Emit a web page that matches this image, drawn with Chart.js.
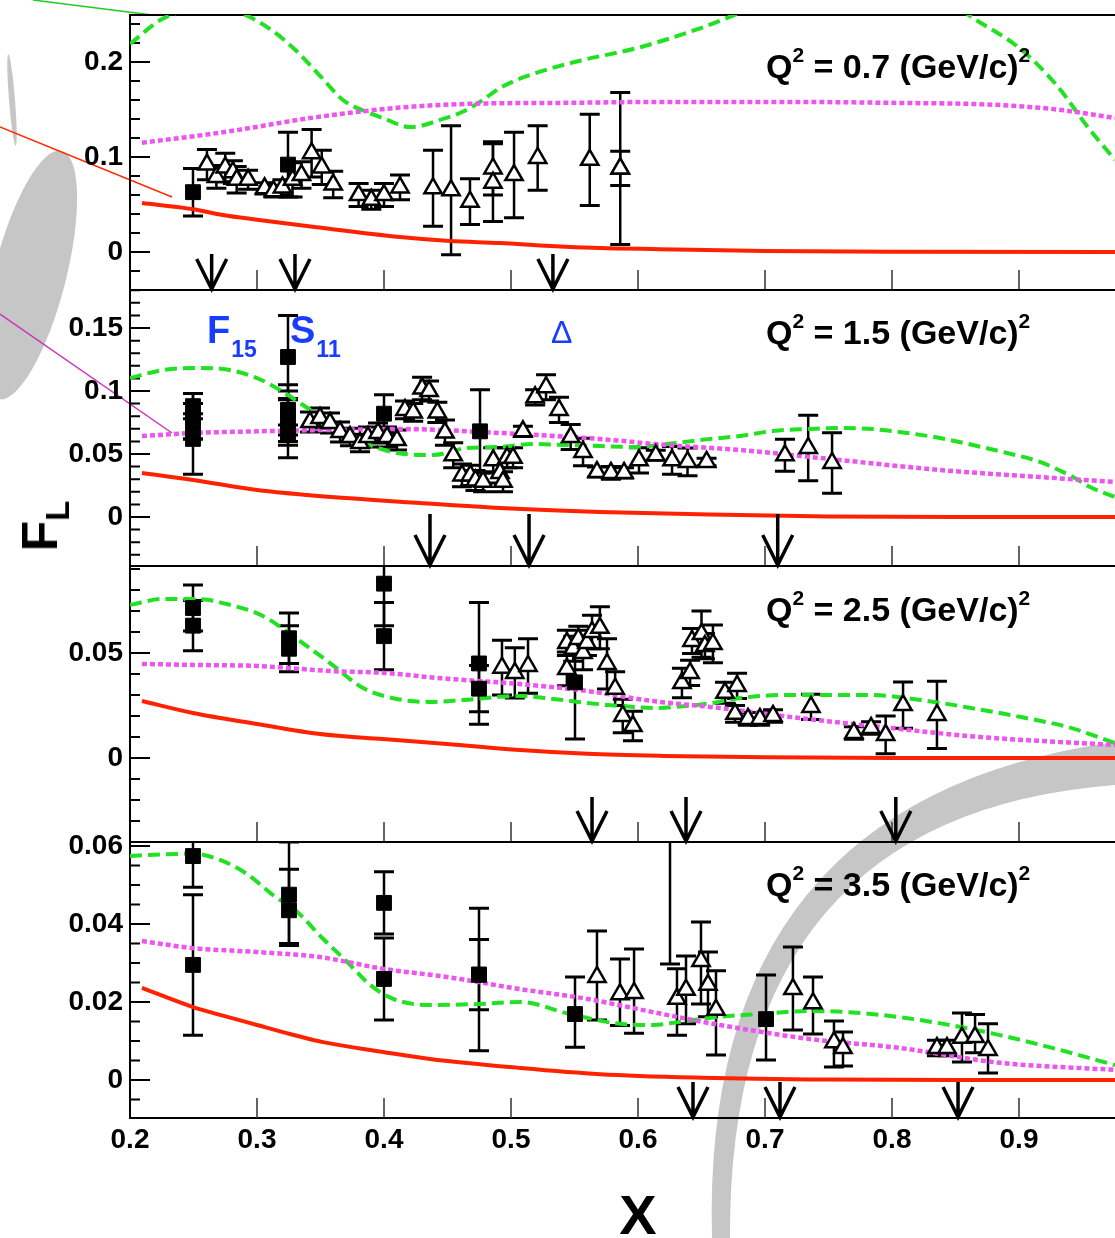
<!DOCTYPE html>
<html>
<head>
<meta charset="utf-8">
<title>F_L versus x</title>
<script src="https://cdn.jsdelivr.net/npm/chart.js@4.4.1/dist/chart.umd.min.js"></script>
<style>
  body { margin: 0; background: #fff; }
  #wrap { position: relative; width: 1115px; height: 1238px; overflow: hidden; }
  #wrap canvas { position: absolute; left: 0; top: 0; }
  .axis-title { position: absolute; font-family: 'Liberation Sans', Arial, sans-serif; font-weight: bold; color: #000; white-space: nowrap; line-height: 1; }
  #xTitle { left: 638px; top: 1215px; font-size: 56px; transform: translate(-50%, -50%); }
  #yTitle { left: 40px; top: 526px; font-size: 50px; transform: translate(-50%, -50%) rotate(-90deg); }
  #yTitle span { font-size: 33px; position: relative; top: 12px; }
</style>
</head>
<body>
<div id="wrap">
  <canvas id="p07" width="1115" height="1238"></canvas>
  <canvas id="p15" width="1115" height="1238"></canvas>
  <canvas id="p25" width="1115" height="1238"></canvas>
  <canvas id="p35" width="1115" height="1238"></canvas>
  <div class="axis-title" id="xTitle">X</div>
  <div class="axis-title" id="yTitle">F<span>L</span></div>
</div>
<script>
// x axis
const xTicks = [0.2, 0.3, 0.4, 0.5, 0.6, 0.7, 0.8, 0.9];
const xTickLabels = ['0.2', '0.3', '0.4', '0.5', '0.6', '0.7', '0.8', '0.9'];
const q2Values = ['0.7', '1.5', '2.5', '3.5'];

// points are [x, F_L, error] or [x, F_L, error down, error up]

// Q2 = 0.7
const yTicks07 = [0, 0.1, 0.2];
const yLabels07 = ['0', '0.1', '0.2'];
const squares07 = [[0.2496, 0.063, 0.025], [0.3244, 0.092, 0.034]];
const triangles07 = [
  [0.2606, 0.092, 0.016], [0.268, 0.079, 0.012], [0.275, 0.089, 0.015], [0.281, 0.084, 0.012],
  [0.284, 0.076, 0.014], [0.293, 0.076, 0.01], [0.306, 0.067, 0.006], [0.313, 0.064, 0.006],
  [0.32, 0.068, 0.008], [0.328, 0.076, 0.018], [0.335, 0.081, 0.014], [0.343, 0.104, 0.025],
  [0.351, 0.089, 0.018], [0.36, 0.071, 0.014], [0.38, 0.06, 0.012], [0.39, 0.055, 0.01],
  [0.4, 0.06, 0.012], [0.4126, 0.068, 0.013], [0.4386, 0.067, 0.04], [0.4528, 0.065, 0.068],
  [0.4677, 0.053, 0.024], [0.4858, 0.088, 0.028], [0.4858, 0.073, 0.041], [0.5024, 0.081, 0.045],
  [0.521, 0.099, 0.034], [0.562, 0.097, 0.048], [0.586, 0.088, 0.08], [0.586, 0.088, 0.018]
];
const red07 = [[0.2094, 0.0516], [0.25, 0.045], [0.273, 0.039], [0.3, 0.034], [0.347, 0.026], [0.4126, 0.0158],
  [0.452, 0.0116], [0.4913, 0.0095], [0.531, 0.0063], [0.57, 0.0042], [0.617, 0.003], [0.7, 0.001], [0.8, 0.0002], [0.9756, 0]];
const magenta07 = [[0.2094, 0.115], [0.273, 0.126], [0.347, 0.142], [0.4126, 0.152], [0.467, 0.156], [0.54, 0.157],
  [0.62, 0.158], [0.72, 0.158], [0.8, 0.157], [0.88, 0.155], [0.93, 0.15], [0.9756, 0.141]];
const green07 = [[0.2, 0.219], [0.225, 0.245], [0.25, 0.256], [0.27, 0.258], [0.29, 0.25], [0.31, 0.235], [0.33, 0.213],
  [0.35, 0.185], [0.3677, 0.16], [0.3835, 0.149], [0.3992, 0.141], [0.4205, 0.1316], [0.4283, 0.1326], [0.4441, 0.139],
  [0.4598, 0.1463], [0.4756, 0.158], [0.4913, 0.1726], [0.51, 0.184], [0.55, 0.2], [0.6, 0.215], [0.65, 0.236],
  [0.7, 0.262], [0.75, 0.282], [0.8, 0.29], [0.84, 0.272], [0.86, 0.25], [0.9, 0.215], [0.93, 0.175], [0.955, 0.13], [0.9756, 0.097]];
const arrows07 = [0.2643, 0.3299, 0.533];

// Q2 = 1.5
const yTicks15 = [0, 0.05, 0.1, 0.15];
const yLabels15 = ['0', '0.05', '0.1', '0.15'];
const squares15 = [
  [0.2496, 0.088, 0.01], [0.2496, 0.08, 0.018], [0.2496, 0.072, 0.01], [0.2496, 0.062, 0.028],
  [0.3244, 0.127, 0.033], [0.3244, 0.085, 0.02], [0.3244, 0.08, 0.02], [0.3244, 0.07, 0.023], [0.3244, 0.065, 0.008],
  [0.4, 0.082, 0.015], [0.4756, 0.068, 0.033]
];
const triangles15 = [
  [0.3417, 0.0754, 0.008], [0.3496, 0.0786, 0.008], [0.3575, 0.0746, 0.008], [0.3654, 0.0675, 0.008],
  [0.3732, 0.0635, 0.007], [0.3811, 0.0587, 0.007], [0.3874, 0.0635, 0.008], [0.3953, 0.0667, 0.008],
  [0.4024, 0.0635, 0.008], [0.4102, 0.0611, 0.008], [0.4165, 0.085, 0.007], [0.423, 0.083, 0.007],
  [0.43, 0.102, 0.009], [0.4355, 0.1, 0.008], [0.442, 0.083, 0.008], [0.448, 0.067, 0.01],
  [0.4545, 0.049, 0.01], [0.4614, 0.033, 0.009], [0.468, 0.033, 0.008], [0.472, 0.029, 0.008],
  [0.478, 0.028, 0.008], [0.486, 0.045, 0.01], [0.4913, 0.035, 0.008], [0.4937, 0.028, 0.008],
  [0.4969, 0.047, 0.008], [0.5016, 0.047, 0.008], [0.5094, 0.068, 0.004], [0.519, 0.095, 0.006],
  [0.5276, 0.103, 0.01], [0.5378, 0.085, 0.01], [0.547, 0.0635, 0.01], [0.5567, 0.0516, 0.011],
  [0.5677, 0.0357, 0.004], [0.5787, 0.035, 0.005], [0.589, 0.035, 0.004], [0.6008, 0.045, 0.01],
  [0.614, 0.049, 0.004], [0.6268, 0.045, 0.011], [0.639, 0.0437, 0.011], [0.654, 0.0437, 0.003],
  [0.7157, 0.049, 0.0127], [0.734, 0.0548, 0.026], [0.7528, 0.0429, 0.024]
];
const red15 = [[0.2094, 0.0349], [0.2496, 0.0294], [0.3, 0.0214], [0.3394, 0.0175], [0.4283, 0.0111], [0.4913, 0.0071],
  [0.5701, 0.004], [0.6803, 0.0016], [0.75, 0.0004], [0.85, 0], [0.9756, 0]];
const magenta15 = [[0.2094, 0.0643], [0.2496, 0.0667], [0.3, 0.068], [0.35, 0.069], [0.4126, 0.0698], [0.4913, 0.0667],
  [0.5701, 0.0619], [0.6228, 0.0571], [0.6803, 0.0532], [0.7591, 0.0452], [0.8378, 0.0373], [0.9165, 0.0317], [0.9756, 0.0278]];
const green15 = [[0.2, 0.1103], [0.226, 0.1167], [0.2528, 0.1183], [0.2732, 0.1175], [0.3, 0.1103], [0.3181, 0.1008],
  [0.3362, 0.0889], [0.3575, 0.0746], [0.3835, 0.0595], [0.4102, 0.0508], [0.4386, 0.0492], [0.4654, 0.0548],
  [0.4913, 0.0556], [0.5173, 0.0579], [0.5441, 0.0571], [0.5701, 0.0563], [0.5961, 0.0556], [0.6228, 0.0579],
  [0.6488, 0.0611], [0.6803, 0.0643], [0.7063, 0.0683], [0.7331, 0.0698], [0.7591, 0.0706], [0.785, 0.0698],
  [0.8118, 0.0667], [0.8378, 0.0627], [0.8638, 0.0571], [0.8906, 0.0508], [0.9165, 0.0437], [0.9425, 0.0317],
  [0.9559, 0.0238], [0.9756, 0.0159]];
const arrows15 = [0.4362, 0.5142, 0.71];
const resNames = ['F', 'S', 'Δ'];
const resSubs = ['15', '11', ''];
const resX = [0.2607, 0.326, 0.5315];

// Q2 = 2.5
const yTicks25 = [0, 0.05];
const yLabels25 = ['0', '0.05'];
const squares25 = [
  [0.2496, 0.0714, 0.011], [0.2496, 0.063, 0.012], [0.3252, 0.057, 0.012], [0.3252, 0.052, 0.011],
  [0.4, 0.083, 0.02], [0.4, 0.058, 0.016], [0.4748, 0.045, 0.029], [0.4748, 0.033, 0.011], [0.5504, 0.036, 0.027, 0.016]
];
const triangles25 = [
  [0.4929, 0.043, 0.013], [0.503, 0.0405, 0.012], [0.5134, 0.0438, 0.013], [0.544, 0.0548, 0.006],
  [0.544, 0.0424, 0.008], [0.549, 0.052, 0.006], [0.553, 0.0567, 0.006], [0.5567, 0.05, 0.008],
  [0.5598, 0.0548, 0.006], [0.5638, 0.06, 0.008], [0.57, 0.062, 0.01], [0.5756, 0.0448, 0.012],
  [0.582, 0.033, 0.008], [0.588, 0.02, 0.008], [0.596, 0.0152, 0.007], [0.6346, 0.0357, 0.007],
  [0.641, 0.0405, 0.006], [0.6425, 0.0557, 0.006], [0.65, 0.059, 0.011], [0.6527, 0.0533, 0.006],
  [0.659, 0.0543, 0.009], [0.6685, 0.031, 0.005], [0.678, 0.0343, 0.006], [0.6764, 0.021, 0.004],
  [0.6866, 0.0186, 0.003], [0.696, 0.0186, 0.003], [0.7063, 0.02, 0.003], [0.7362, 0.0243, 0.006],
  [0.77, 0.0119, 0.003], [0.7835, 0.0143, 0.003], [0.795, 0.011, 0.009], [0.8087, 0.0252, 0.011],
  [0.8354, 0.0205, 0.016]
];
const red25 = [[0.2094, 0.0271], [0.2496, 0.0214], [0.3, 0.0162], [0.3496, 0.0114], [0.3992, 0.009], [0.4496, 0.0067],
  [0.5071, 0.0038], [0.56, 0.002], [0.62, 0.001], [0.7, 0.0003], [0.8, 0], [0.9756, 0]];
const magenta25 = [[0.2094, 0.0448], [0.2496, 0.0443], [0.3, 0.0438], [0.3575, 0.0414], [0.4, 0.0405], [0.4441, 0.038],
  [0.5071, 0.0352], [0.5598, 0.0319], [0.6118, 0.0271], [0.6646, 0.0238], [0.7276, 0.019], [0.7906, 0.0148],
  [0.8693, 0.01], [0.9756, 0.0062]];
const green25 = [[0.2, 0.0729], [0.226, 0.0757], [0.2528, 0.0757], [0.2787, 0.0729], [0.3047, 0.0676], [0.3315, 0.0567],
  [0.3575, 0.0452], [0.3835, 0.0333], [0.4102, 0.0281], [0.4362, 0.0267], [0.4622, 0.0276], [0.5071, 0.0295],
  [0.5331, 0.0281], [0.5598, 0.0262], [0.5858, 0.0248], [0.6118, 0.0238], [0.6386, 0.0248], [0.659, 0.0262],
  [0.6748, 0.0281], [0.7173, 0.03], [0.7835, 0.03], [0.8228, 0.0276], [0.8622, 0.0238], [0.9016, 0.0195],
  [0.9409, 0.0143], [0.9756, 0.0071]];
const arrows25 = [0.5638, 0.6378, 0.803];

// Q2 = 3.5
const yTicks35 = [0, 0.02, 0.04, 0.06];
const yLabels35 = ['0', '0.02', '0.04', '0.06'];
const squares35 = [
  [0.2496, 0.0574, 0.008, 0.006], [0.2496, 0.0295, 0.018], [0.3252, 0.0475, 0.0125, 0.0135],
  [0.3252, 0.0435, 0.009, 0.0105], [0.4, 0.0454, 0.008], [0.4, 0.0259, 0.0105],
  [0.4748, 0.027, 0.0195, 0.017], [0.4748, 0.027, 0.009], [0.5504, 0.0169, 0.0085, 0.0095],
  [0.7008, 0.0156, 0.0105, 0.0113], [0.6252, 0.075, 0.0453, 0]
];
const triangles35 = [
  [0.5677, 0.0264, 0.011, 0.0118], [0.5858, 0.022, 0.008, 0.009], [0.5969, 0.0223, 0.0103, 0.0113],
  [0.6307, 0.0208, 0.0093, 0.0077], [0.6378, 0.0231, 0.0087], [0.6496, 0.0305, 0.011, 0.01],
  [0.6551, 0.0244, 0.0082, 0.0084], [0.6614, 0.018, 0.0116, 0.01], [0.722, 0.0233, 0.0105, 0.0108],
  [0.7378, 0.0197, 0.0079, 0.0067], [0.7543, 0.0097, 0.0064, 0.0054], [0.7614, 0.0082, 0.0046, 0.0041],
  [0.8354, 0.0082, 0.002], [0.8433, 0.0082, 0.002], [0.8551, 0.0108, 0.0062, 0.0064],
  [0.8654, 0.011, 0.004, 0.0058], [0.8756, 0.0077, 0.0059, 0.0067]
];
const red35 = [[0.2094, 0.0236], [0.2496, 0.0187], [0.2709, 0.0167], [0.3, 0.0141], [0.326, 0.0118], [0.352, 0.0097],
  [0.3992, 0.0072], [0.4362, 0.0054], [0.5071, 0.0031], [0.57, 0.0015], [0.65, 0.0006], [0.75, 0.0001], [0.85, 0], [0.9756, 0]];
const magenta35 = [[0.2094, 0.0356], [0.2496, 0.0338], [0.3, 0.0328], [0.3496, 0.0315], [0.3992, 0.0285], [0.4496, 0.0264],
  [0.5071, 0.0233], [0.5598, 0.0208], [0.6118, 0.0174], [0.6646, 0.0141], [0.7354, 0.0105], [0.8063, 0.0082],
  [0.885, 0.0044], [0.9756, 0.0026]];
const green35 = [[0.2, 0.0574], [0.2094, 0.0576], [0.2496, 0.058], [0.2709, 0.0564], [0.2921, 0.0528], [0.3126, 0.0474],
  [0.3315, 0.0431], [0.352, 0.0362], [0.3709, 0.0303], [0.389, 0.0244], [0.4071, 0.0208], [0.4362, 0.0192],
  [0.4756, 0.0195], [0.5071, 0.02], [0.5465, 0.0169], [0.5858, 0.0144], [0.6118, 0.0141], [0.6331, 0.0149],
  [0.6646, 0.0162], [0.696, 0.0169], [0.7354, 0.0177], [0.7906, 0.0167], [0.8457, 0.0141], [0.885, 0.0115],
  [0.9323, 0.0077], [0.9756, 0.0038]];
const arrows35 = [0.6433, 0.7118, 0.852];

const FONT = "'Liberation Sans', Arial, sans-serif";
const X_MIN = 0.2, X_MAX = 0.2 + 985 / 1270;

const panels = [
  { canvas: 'p07', top: 15, bottom: 290, yMin: -0.04, yMax: 0.2495, yTicks: yTicks07, yLabels: yLabels07, minor: 0.02, major: 0.1,
    squares: squares07, triangles: triangles07, red: red07, magenta: magenta07, green: green07, arrows: arrows07, arrowLen: 35, q2: q2Values[0], q2Dy: 63 },
  { canvas: 'p15', top: 290, bottom: 566, yMin: -0.0389, yMax: 0.1802, yTicks: yTicks15, yLabels: yLabels15, minor: 0.01, major: 0.05,
    squares: squares15, triangles: triangles15, red: red15, magenta: magenta15, green: green15, arrows: arrows15, arrowLen: 51, q2: q2Values[1], q2Dy: 54, res: true },
  { canvas: 'p25', top: 566, bottom: 842, yMin: -0.04, yMax: 0.0914, yTicks: yTicks25, yLabels: yLabels25, minor: 0.01, major: 0.05,
    squares: squares25, triangles: triangles25, red: red25, magenta: magenta25, green: green25, arrows: arrows25, arrowLen: 44, q2: q2Values[2], q2Dy: 55 },
  { canvas: 'p35', top: 842, bottom: 1118, yMin: -0.00974, yMax: 0.061, yTicks: yTicks35, yLabels: yLabels35, minor: 0.005, major: 0.02,
    squares: squares35, triangles: triangles35, red: red35, magenta: magenta35, green: green35, arrows: arrows35, arrowLen: 35, q2: q2Values[3], q2Dy: 54, last: true }
];
const byCanvas = {};
panels.forEach(p => { byCanvas[p.canvas] = p; });

// grey smears and stray leader lines of the scanned slide
function drawDecor(ctx) {
  ctx.save();
  ctx.fillStyle = '#c6c6c6';
  ctx.beginPath(); ctx.ellipse(30, 275, 36, 128, 0.25, 0, Math.PI * 2); ctx.fill();
  ctx.beginPath(); ctx.ellipse(12, 100, 3, 46, -0.08, 0, Math.PI * 2); ctx.fill();
  ctx.beginPath();
  ctx.moveTo(712, 1238);
  ctx.quadraticCurveTo(700, 800, 1115, 742);
  ctx.lineTo(1115, 785);
  ctx.quadraticCurveTo(728, 815, 730, 1238);
  ctx.closePath();
  ctx.fill();
  ctx.lineWidth = 1.5;
  ctx.strokeStyle = '#22cc22';
  ctx.beginPath(); ctx.moveTo(33, 0); ctx.lineTo(152, 15); ctx.stroke();
  ctx.strokeStyle = '#ff2a00';
  ctx.beginPath(); ctx.moveTo(0, 127); ctx.lineTo(172, 197); ctx.stroke();
  ctx.strokeStyle = '#cc33bb';
  ctx.beginPath(); ctx.moveTo(0, 314); ctx.lineTo(172, 433); ctx.stroke();
  ctx.restore();
}

function drawErrors(ctx, x, y, rows) {
  rows.forEach(r => {
    const px = x.getPixelForValue(r[0]);
    const lo = y.getPixelForValue(r[1] - r[2]);
    const hi = y.getPixelForValue(r[1] + (r.length > 3 ? r[3] : r[2]));
    ctx.lineWidth = 2.5;
    ctx.beginPath(); ctx.moveTo(px, lo); ctx.lineTo(px, hi); ctx.stroke();
    ctx.lineWidth = 3;
    ctx.beginPath();
    ctx.moveTo(px - 10, lo); ctx.lineTo(px + 10, lo);
    ctx.moveTo(px - 10, hi); ctx.lineTo(px + 10, hi);
    ctx.stroke();
  });
}

function drawQ2(ctx, left, base, q) {
  const big = 'bold 34px ' + FONT, sup = 'bold 21px ' + FONT;
  let px = left;
  const part = (t, f, dy) => { ctx.font = f; ctx.fillText(t, px, base + dy); px += ctx.measureText(t).width; };
  part('Q', big, 0);
  part('2', sup, -16);
  part(' = ' + q + ' (GeV/c)', big, 0);
  part('2', sup, -16);
}

const panelPlugin = {
  id: 'panelFrame',
  beforeDraw(chart) {
    if (chart.canvas.id === 'p07') drawDecor(chart.ctx);
  },
  beforeDatasetsDraw(chart) {
    const p = byCanvas[chart.canvas.id];
    const { ctx, chartArea: a } = chart;
    const x = chart.scales.x, y = chart.scales.y;
    ctx.save();
    ctx.strokeStyle = '#000';
    ctx.lineWidth = 2;
    ctx.beginPath();
    ctx.moveTo(a.left, a.top); ctx.lineTo(a.right, a.top);
    ctx.moveTo(a.left, a.bottom); ctx.lineTo(a.right, a.bottom);
    ctx.moveTo(a.left, a.top - 1); ctx.lineTo(a.left, a.bottom + 1);
    ctx.stroke();
    // y ticks point into the frame
    const n0 = Math.ceil(p.yMin / p.minor - 1e-6), n1 = Math.floor(p.yMax / p.minor + 1e-6);
    ctx.beginPath();
    for (let n = n0; n <= n1; n++) {
      const v = n * p.minor;
      const isMajor = Math.abs(v / p.major - Math.round(v / p.major)) < 1e-6;
      const py = y.getPixelForValue(v);
      ctx.moveTo(a.left, py); ctx.lineTo(a.left + (isMajor ? 20 : 10), py);
    }
    ctx.stroke();
    // x ticks on every panel floor
    ctx.lineWidth = 1.5;
    ctx.strokeStyle = '#333';
    ctx.beginPath();
    xTicks.slice(1).forEach(v => {
      const px = x.getPixelForValue(v);
      ctx.moveTo(px, a.bottom); ctx.lineTo(px, a.bottom - 20);
    });
    ctx.stroke();
    // error bars under the markers
    ctx.beginPath(); ctx.rect(a.left, a.top, a.right - a.left, a.bottom - a.top); ctx.clip();
    ctx.strokeStyle = '#000';
    drawErrors(ctx, x, y, p.squares);
    drawErrors(ctx, x, y, p.triangles);
    ctx.restore();
  },
  afterDatasetsDraw(chart) {
    const p = byCanvas[chart.canvas.id];
    const { ctx, chartArea: a } = chart;
    const x = chart.scales.x;
    ctx.save();
    ctx.strokeStyle = '#000';
    ctx.lineWidth = 3.5;
    ctx.lineJoin = 'miter';
    p.arrows.forEach(v => {
      const px = x.getPixelForValue(v), b = a.bottom - 1;
      ctx.beginPath();
      ctx.moveTo(px, b - p.arrowLen); ctx.lineTo(px, b);
      ctx.moveTo(px - 15, b - 30); ctx.lineTo(px, b); ctx.lineTo(px + 15, b - 30);
      ctx.stroke();
    });
    ctx.fillStyle = '#000';
    ctx.textAlign = 'left';
    ctx.textBaseline = 'alphabetic';
    drawQ2(ctx, a.left + 636, a.top + p.q2Dy, p.q2);
    if (p.res) {
      ctx.fillStyle = '#1a3cff';
      resNames.forEach((n, i) => {
        const px = x.getPixelForValue(resX[i]);
        ctx.font = (resSubs[i] ? 'bold 38px ' : '32px ') + FONT;
        ctx.fillText(n, px, a.top + 53);
        if (resSubs[i]) {
          const w = ctx.measureText(n).width;
          ctx.font = 'bold 23px ' + FONT;
          ctx.fillText(resSubs[i], px + w + 1, a.top + 67);
        }
      });
    }
    ctx.restore();
  }
};

const pts = rows => rows.map(r => ({ x: r[0], y: r[1] }));
const tickFont = { family: FONT, size: 28, weight: 'bold' };

panels.forEach(p => {
  const xScale = {
    type: 'linear', min: X_MIN, max: X_MAX, display: !!p.last,
    grid: { display: false, drawTicks: false }, border: { display: false },
    afterBuildTicks: s => { s.ticks = xTicks.map(v => ({ value: v })); },
    ticks: { callback: (v, i) => xTickLabels[i], font: tickFont, color: '#000', padding: 5, maxRotation: 0, autoSkip: false }
  };
  if (p.last) {
    xScale.afterFit = s => { s.height = 120; s.paddingLeft = 0; s.paddingRight = 0; };
  }
  new Chart(document.getElementById(p.canvas), {
    type: 'scatter',
    data: {
      datasets: [
        { data: pts(p.squares), pointStyle: 'rect', pointRadius: 10.5, backgroundColor: '#000', borderColor: '#000', borderWidth: 1 },
        { data: pts(p.triangles), pointStyle: 'triangle', pointRadius: 10, backgroundColor: '#fff', borderColor: '#000', borderWidth: 2.5 },
        { data: pts(p.red), showLine: true, borderColor: '#ff2200', borderWidth: 4, pointRadius: 0, cubicInterpolationMode: 'monotone' },
        { data: pts(p.magenta), showLine: true, borderColor: '#ee55ee', borderWidth: 4.5, borderDash: [5, 3], pointRadius: 0, cubicInterpolationMode: 'monotone' },
        { data: pts(p.green), showLine: true, borderColor: '#22e022', borderWidth: 4, borderDash: [12, 6], pointRadius: 0, cubicInterpolationMode: 'monotone' }
      ]
    },
    options: {
      responsive: false,
      animation: false,
      devicePixelRatio: 1,
      events: [],
      layout: { autoPadding: false, padding: { top: p.top, bottom: p.last ? 0 : 1238 - p.bottom, left: 0, right: 0 } },
      plugins: { legend: { display: false }, tooltip: { enabled: false } },
      scales: {
        x: xScale,
        y: {
          type: 'linear', min: p.yMin, max: p.yMax,
          grid: { display: false, drawTicks: false }, border: { display: false },
          afterBuildTicks: s => { s.ticks = p.yTicks.map(v => ({ value: v })); },
          afterFit: s => { s.width = 130; s.paddingTop = 0; s.paddingBottom = 0; },
          ticks: { callback: (v, i) => p.yLabels[i], font: tickFont, color: '#000', padding: 7, autoSkip: false }
        }
      }
    },
    plugins: [panelPlugin]
  });
});
</script>
</body>
</html>
